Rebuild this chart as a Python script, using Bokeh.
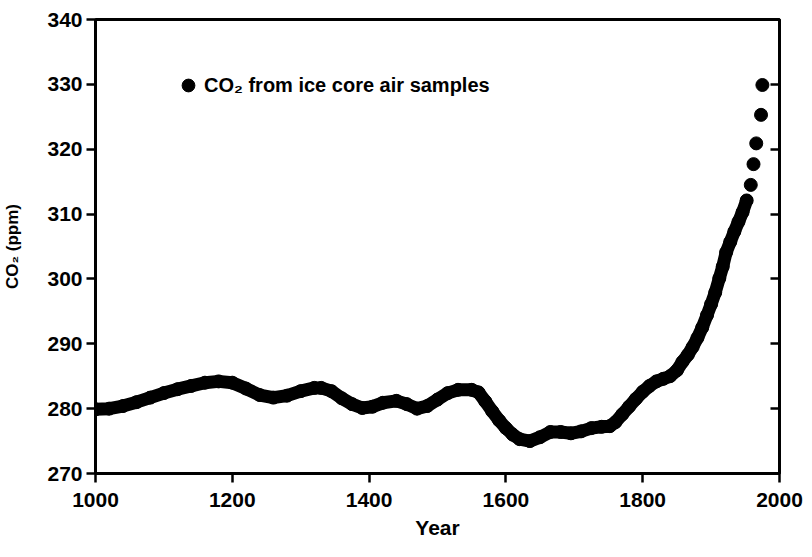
from bokeh.plotting import figure
from bokeh.models import Range1d, LinearAxis, FixedTicker, Legend, LegendItem
from bokeh.embed import file_html
from bokeh.resources import INLINE

# CO2 from ice core air samples
years = [1000, 1020, 1040, 1060, 1080, 1100, 1120, 1140, 1160, 1180,
         1200, 1220, 1240, 1260, 1280, 1300, 1320, 1330, 1345, 1360,
         1375, 1390, 1405, 1420, 1440, 1455, 1470, 1485, 1500, 1515,
         1530, 1550, 1560, 1570, 1580, 1590, 1600, 1610, 1620, 1635,
         1650, 1665, 1680, 1695, 1710, 1725, 1740, 1752, 1760, 1770,
         1780, 1790, 1800, 1810, 1820, 1830, 1840, 1850, 1858, 1866,
         1873, 1880, 1887, 1894, 1900, 1906, 1912, 1917, 1922, 1928,
         1934, 1940, 1946, 1952, 1958, 1962, 1966, 1973, 1975]
co2 = [279.9, 280.0, 280.4, 281.0, 281.7, 282.4, 283.0, 283.5, 284.0, 284.2,
       284.0, 283.1, 282.1, 281.7, 282.0, 282.7, 283.2, 283.2, 282.7, 281.6,
       280.7, 280.1, 280.3, 280.9, 281.2, 280.7, 280.0, 280.4, 281.4, 282.4,
       282.9, 282.9, 282.5, 281.1, 279.6, 278.2, 277.0, 276.0, 275.3, 275.0,
       275.6, 276.4, 276.4, 276.2, 276.5, 277.0, 277.2, 277.3, 277.9, 279.1,
       280.3, 281.5, 282.6, 283.5, 284.2, 284.6, 285.0, 285.9, 287.2, 288.3,
       289.5, 290.9, 292.5, 294.4, 296.1, 297.9, 300.1, 301.9, 304.1, 305.7,
       307.3, 308.8, 310.3, 312.1, 314.5, 317.7, 320.9, 325.3, 329.9]
smooth_until = 1952

x_ticks = [1000, 1200, 1400, 1600, 1800, 2000]
y_ticks = [270, 280, 290, 300, 310, 320, 330, 340]
legend_label = "CO\u2082 from ice core air samples"
x_label = "Year"
y_label = "CO\u2082 (ppm)"

FONT = "Liberation Sans"

p = figure(frame_width=684, frame_height=454,
           min_border_left=88, min_border_right=24,
           min_border_top=19, min_border_bottom=76,
           x_range=Range1d(1000, 2000), y_range=Range1d(270, 340),
           output_backend="svg", toolbar_location=None,
           x_axis_label=x_label, y_axis_label=y_label)

p.grid.visible = False
p.outline_line_color = "black"
p.outline_line_width = 3
p.background_fill_color = "white"
p.border_fill_color = "white"

n = sum(1 for y in years if y <= smooth_until)
p.line(years[:n], co2[:n], line_width=13, line_color="black",
       line_join="round", line_cap="round")
r = p.scatter(years, co2, size=13, fill_color="black", line_color="black")

for ax, ticks in ((p.xaxis[0], x_ticks), (p.yaxis[0], y_ticks)):
    ax.ticker = FixedTicker(ticks=ticks)
    ax.axis_line_width = 3
    ax.axis_line_color = "black"
    ax.major_tick_line_width = 2.5
    ax.major_tick_line_color = "black"
    ax.major_tick_out = 9
    ax.major_tick_in = 0
    ax.minor_tick_out = 0
    ax.minor_tick_in = 0
    ax.major_label_text_font = FONT
    ax.major_label_text_font_size = "21px"
    ax.major_label_text_font_style = "bold"
    ax.major_label_text_color = "black"
    ax.axis_label_text_font = FONT
    ax.axis_label_text_font_style = "bold"
    ax.axis_label_text_color = "black"

p.xaxis[0].major_label_standoff = 10
p.xaxis[0].axis_label_standoff = 6
p.xaxis[0].axis_label_text_font_size = "21px"
p.yaxis[0].major_label_standoff = 4
p.yaxis[0].axis_label_standoff = 22
p.yaxis[0].axis_label_text_font_size = "17px"

right = LinearAxis(ticker=FixedTicker(ticks=y_ticks))
right.axis_line_width = 3
right.axis_line_color = "black"
right.major_tick_line_width = 2.5
right.major_tick_line_color = "black"
right.major_tick_in = 9
right.major_tick_out = 0
right.minor_tick_in = 0
right.minor_tick_out = 0
right.major_label_overrides = {t: "" for t in y_ticks}
right.major_label_standoff = 0
p.add_layout(right, "right")

legend = Legend(items=[LegendItem(label=legend_label, renderers=[r])],
                location=(77, 372))
legend.padding = 0
legend.margin = 0
legend.spacing = 0
legend.border_line_color = None
legend.background_fill_alpha = 0
legend.glyph_width = 32
legend.glyph_height = 32
legend.label_height = 32
legend.label_standoff = 0
legend.label_text_font = FONT
legend.label_text_font_size = "20px"
legend.label_text_font_style = "bold"
legend.label_text_color = "black"
p.add_layout(legend)

open("out.html", "w").write(file_html(p, INLINE))
